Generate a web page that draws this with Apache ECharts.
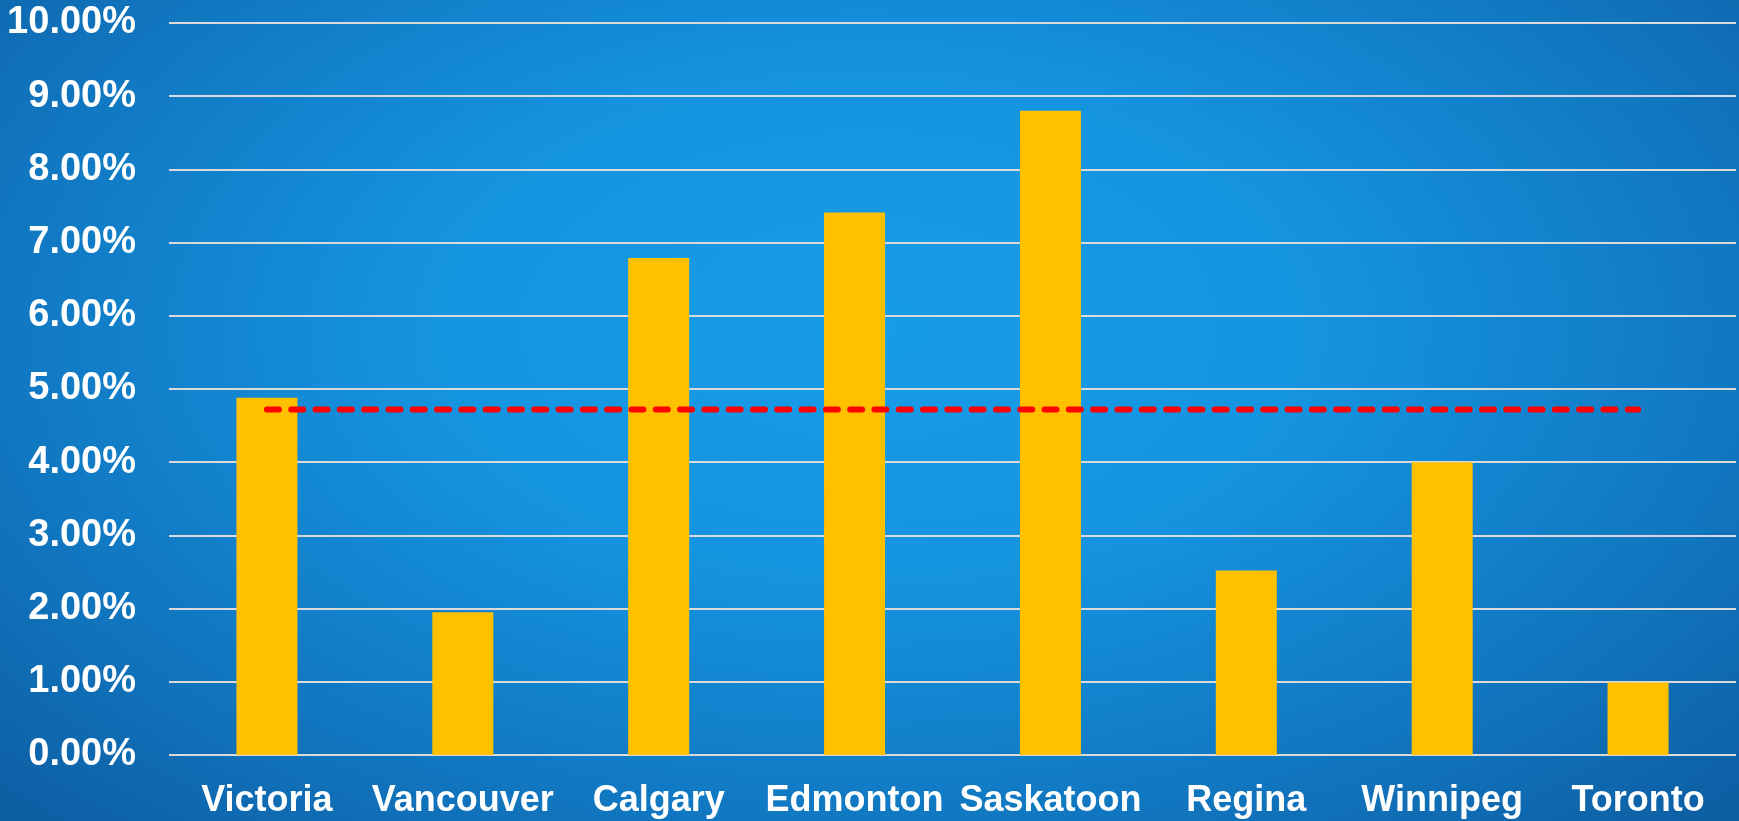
<!DOCTYPE html>
<html>
<head>
<meta charset="utf-8">
<script src="https://cdn.jsdelivr.net/npm/echarts@6/dist/echarts.min.js"></script>
<style>
  html, body { margin: 0; padding: 0; }
  #chart {
    width: 1739px;
    height: 821px;
    background: radial-gradient(ellipse at 50% 40%, #179ce9 0%, #1594e0 35%, #1178c2 70%, #0d5da1 100%);
  }
</style>
</head>
<body>
<div id="chart"></div>
<script>
// 城市
const cities = ['Victoria', 'Vancouver', 'Calgary', 'Edmonton', 'Saskatoon', 'Regina', 'Winnipeg', 'Toronto']
// 柱条数值 (%)
const rates = [4.88, 1.95, 6.79, 7.41, 8.80, 2.52, 4.00, 0.99]
// 平均线 (%)
const avgLine = [4.72, 4.72, 4.72, 4.72, 4.72, 4.72, 4.72, 4.72]

const labelFont = 'Liberation Sans, Arial, sans-serif'
const gridColor = '#dadada'
const barColor = '#FFC000'

const chart = echarts.init(document.getElementById('chart'))
chart.setOption({
  backgroundColor: 'transparent',
  animation: false,
  grid: {
    left: 169,
    right: 3,
    top: 23,
    bottom: 66,
    containLabel: false
  },
  xAxis: {
    type: 'category',
    data: cities,
    axisLine: { show: false },
    axisTick: { show: false },
    axisLabel: {
      color: '#ffffff',
      fontFamily: labelFont,
      fontWeight: 'bold',
      fontSize: 36,
      margin: 28,
      interval: 0
    }
  },
  yAxis: {
    type: 'value',
    min: 0,
    max: 10,
    interval: 1,
    axisLine: { show: false },
    axisTick: { show: false },
    axisLabel: {
      color: '#ffffff',
      fontFamily: labelFont,
      fontWeight: 'bold',
      fontSize: 38,
      margin: 33,
      formatter: v => v.toFixed(2) + '%'
    },
    splitLine: {
      lineStyle: { color: gridColor, width: 1.8 }
    }
  },
  series: [
    {
      type: 'bar',
      data: rates,
      barWidth: 61,
      itemStyle: { color: barColor }
    },
    {
      type: 'line',
      data: avgLine,
      symbol: 'none',
      z: 5,
      lineStyle: {
        color: '#ff0000',
        width: 6,
        type: [12, 12.3],
        cap: 'round'
      }
    }
  ]
})
</script>
</body>
</html>
